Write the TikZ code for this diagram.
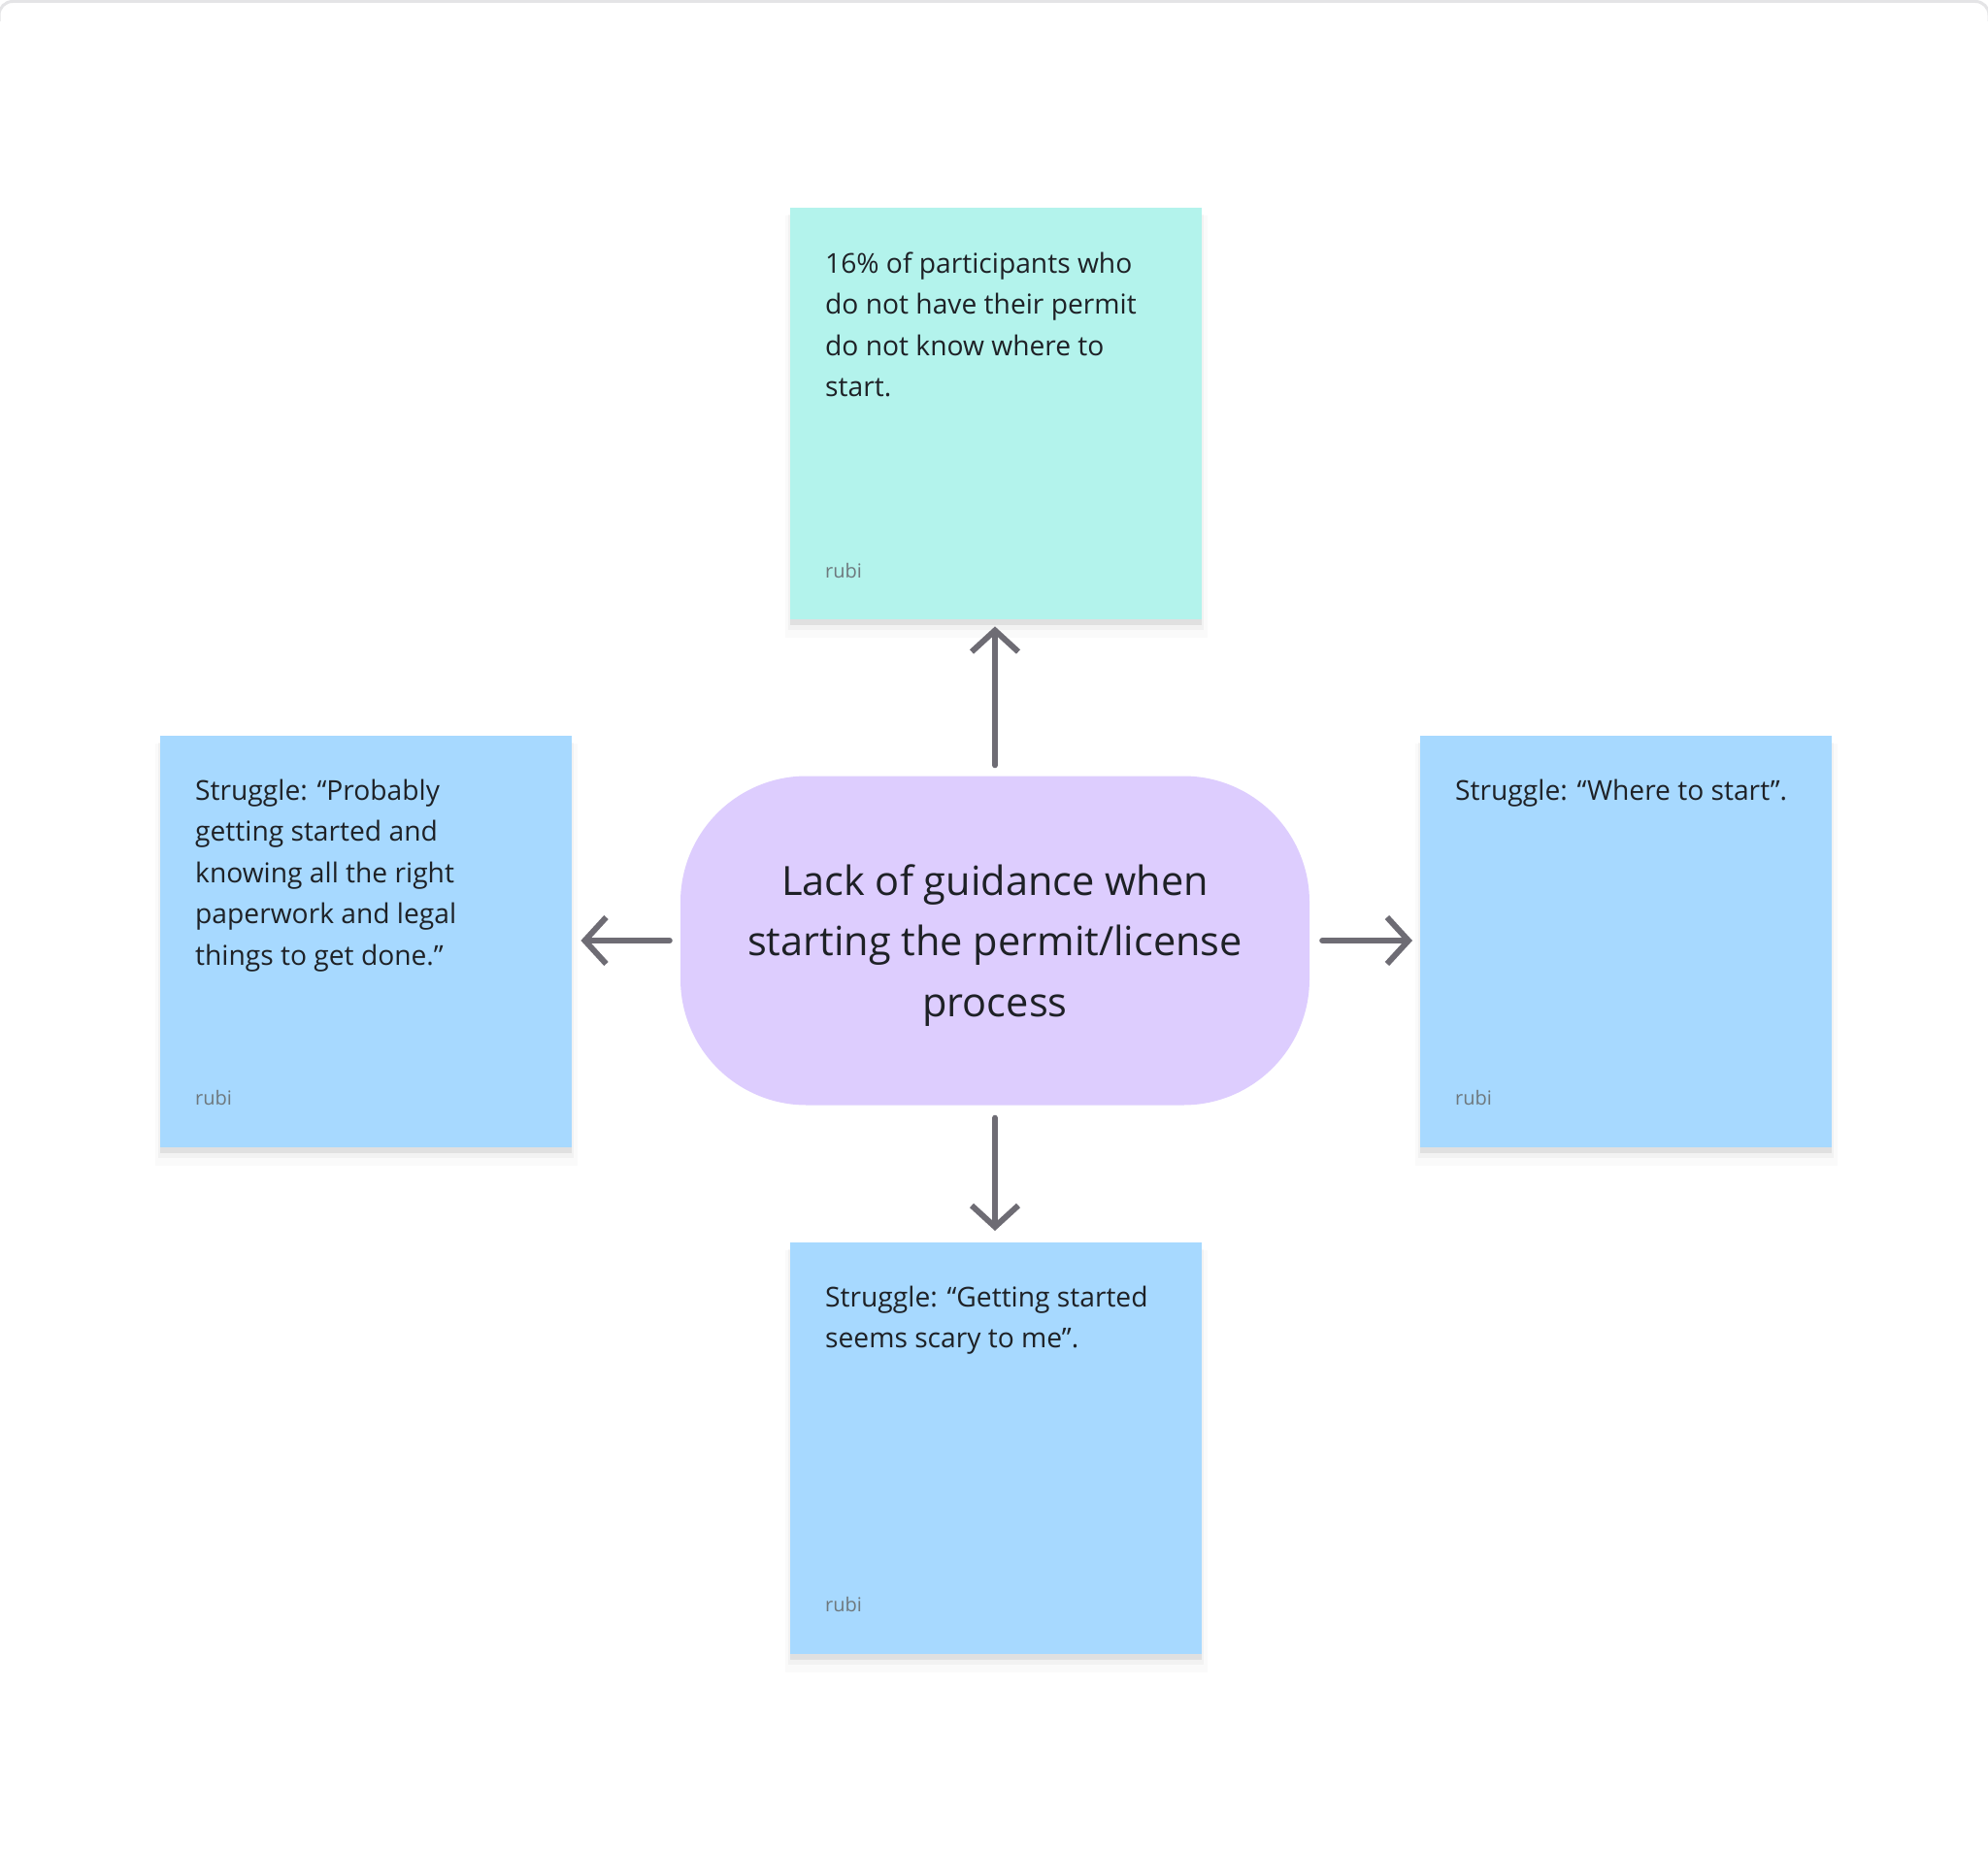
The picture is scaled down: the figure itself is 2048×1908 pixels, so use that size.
\documentclass[tikz,border=0pt]{standalone}
\usepackage{fontspec}
\setmainfont{Open Sans}
\usetikzlibrary{arrows.meta,shadows}
\definecolor{stickyteal}{RGB}{179,243,236}
\definecolor{stickyblue}{RGB}{167,217,255}
\definecolor{pilllav}{RGB}{221,205,254}
\definecolor{arrowgray}{RGB}{110,108,116}
\definecolor{inktext}{RGB}{30,33,38}
\definecolor{inkgray}{RGB}{110,120,125}
\definecolor{framegray}{RGB}{228,228,230}
\begin{document}
\begin{tikzpicture}[x=1pt,y=-1pt,
  sticky/.style={rectangle, minimum width=424pt, minimum height=424pt, inner sep=0pt, anchor=north west,
    general shadow={fill=black, opacity=0.02, shadow yshift=-13pt, shadow scale=1.025},
    general shadow={fill=black, opacity=0.03, shadow yshift=-9pt, shadow scale=1.01},
    drop shadow={shadow xshift=0pt, shadow yshift=-6pt, opacity=0.07, fill=black}},
  stickytext/.style={anchor=base west, align=left, inner sep=0pt, font=\fontsize{28.2}{42.5}\selectfont, text=inktext},
  author/.style={anchor=base west, inner sep=0pt, font=\fontsize{20}{24}\selectfont, text=inkgray},
  conn/.style={draw=arrowgray, line width=6pt, line cap=round, line join=round,
    -{Straight Barb[length=22pt,width=48pt]}}
]
\useasboundingbox (0,0) rectangle (2048,1908);
\fill[white] (0,0) rectangle (2048,1908);
\draw[framegray, line width=3pt, rounded corners=14pt] (-1,22) -- (-1,1.5) -- (2049,1.5) -- (2049,22);

% stickies
\node[sticky, fill=stickyteal] (top) at (814,214) {};
\node[sticky, fill=stickyblue] (left) at (165,758) {};
\node[sticky, fill=stickyblue] (right) at (1463,758) {};
\node[sticky, fill=stickyblue] (bottom) at (814,1280) {};

% central pill
\node[rectangle, rounded corners=130pt, fill=pilllav, minimum width=648pt, minimum height=339pt,
  inner sep=0pt] (core) at (1025,969) {};
\node[anchor=base, align=center, inner sep=0pt, text=inktext, font=\fontsize{41.5}{62.5}\selectfont]
  (coretext) at (1025,1047) {Lack of guidance when\\starting the permit/license\\process};

% sticky texts (anchor = baseline of the last line)
\node[stickytext] (toptext) at ([xshift=36pt,yshift=-194.5pt]top.north west)
  {16\% of participants who\\do not have their permit\\do not know where to\\start.};
\node[author] (topauthor) at ([xshift=36pt,yshift=-381pt]top.north west) {rubi};

\node[stickytext] (lefttext) at ([xshift=36pt,yshift=-236pt]left.north west)
  {Struggle: “Probably\\getting started and\\knowing all the right\\paperwork and legal\\things to get done.”};
\node[author] (leftauthor) at ([xshift=36pt,yshift=-380pt]left.north west) {rubi};

\node[stickytext] (righttext) at ([xshift=36pt,yshift=-66pt]right.north west)
  {Struggle: “Where to start”.};
\node[author] (rightauthor) at ([xshift=36pt,yshift=-380pt]right.north west) {rubi};

\node[stickytext] (bottomtext) at ([xshift=36pt,yshift=-108.5pt]bottom.north west)
  {Struggle: “Getting started\\seems scary to me”.};
\node[author] (bottomauthor) at ([xshift=36pt,yshift=-380pt]bottom.north west) {rubi};

% connectors (kept straight)
\draw[conn, shorten <=11pt, shorten >=7pt] (core.north) -- (core.north |- top.south);
\draw[conn, shorten <=13pt, shorten >=12pt] (core.south) -- (core.south |- bottom.north);
\draw[conn, shorten <=11pt, shorten >=9pt] (core.west) -- (core.west -| left.east);
\draw[conn, shorten <=13pt, shorten >=8pt] (core.east) -- (core.east -| right.west);
\end{tikzpicture}
\end{document}
